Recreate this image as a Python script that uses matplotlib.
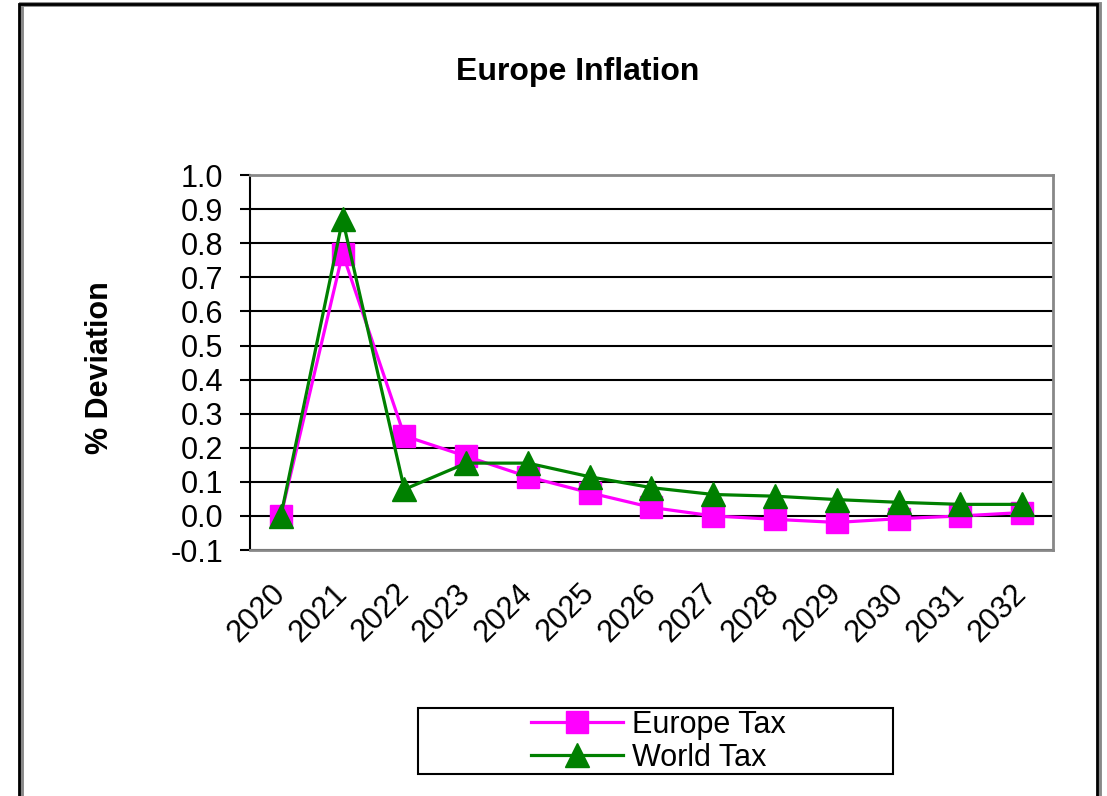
import matplotlib
matplotlib.use("Agg")
import matplotlib.pyplot as plt
from matplotlib.patches import Rectangle

plt.rcParams['font.family'] = ['Liberation Sans', 'DejaVu Sans']

years = ['2020', '2021', '2022', '2023', '2024', '2025', '2026',
         '2027', '2028', '2029', '2030', '2031', '2032']
europe_tax = [0.0, 0.77, 0.235, 0.175, 0.115, 0.068, 0.025,
              0.0, -0.01, -0.019, -0.008, 0.0, 0.01]
world_tax = [0.0, 0.87, 0.078, 0.155, 0.155, 0.115, 0.083,
             0.063, 0.058, 0.048, 0.04, 0.034, 0.034]
yticks = [-0.1, 0.0, 0.1, 0.2, 0.3, 0.4, 0.5, 0.6, 0.7, 0.8, 0.9, 1.0]

fig = plt.figure(figsize=(11.07, 7.96), dpi=100)

# outer chart frame (excel style, with a grey shadow)
fig.patches.append(Rectangle((0.0192, -0.02), 0.9738, 1.0148, transform=fig.transFigure,
                             fill=False, edgecolor='#888888', linewidth=3.5))
fig.patches.append(Rectangle((0.0172, -0.02), 0.9738, 1.0148, transform=fig.transFigure,
                             fill=False, edgecolor='black', linewidth=2))

ax = fig.add_axes([0.2258, 0.309, 0.7254, 0.471])
x = list(range(len(years)))
ax.plot(x, europe_tax, color='#FF00FF', linewidth=2.3, marker='s', markersize=16,
        label='Europe Tax', zorder=3)
ax.plot(x, world_tax, color='#008000', linewidth=2.3, marker='^', markersize=17,
        label='World Tax', zorder=4)

ax.set_xlim(-0.5, len(years) - 0.5)
ax.set_ylim(-0.1, 1.0)
ax.set_yticks(yticks)
ax.set_yticklabels(['%.1f' % v for v in yticks], fontsize=22)
ax.set_xticks(x)
ax.set_xticklabels(years, fontsize=22, rotation=45, ha='right', va='center',
                   rotation_mode='anchor')
ax.tick_params(axis='x', length=0, pad=28)
ax.tick_params(axis='y', direction='out', length=7, width=1.5, pad=12)
ax.yaxis.grid(True, color='black', linewidth=1.5)
ax.set_axisbelow(True)
for side in ['top', 'right', 'bottom']:
    ax.spines[side].set_color('#888888')
    ax.spines[side].set_linewidth(2)
ax.spines['left'].set_color('black')
ax.spines['left'].set_linewidth(1.5)

fig.text(0.522, 0.91, 'Europe Inflation', fontsize=23, fontweight='bold',
         ha='center', va='center')
fig.text(0.09, 0.538, '% Deviation', fontsize=22, fontweight='bold',
         rotation=90, ha='center', va='center')

# legend box
fig.patches.append(Rectangle((0.3776, 0.0276), 0.4291, 0.083, transform=fig.transFigure,
                             fill=False, edgecolor='black', linewidth=1.5))
fig.legend(loc='center', bbox_to_anchor=(0.595, 0.069), frameon=False, fontsize=22,
           handlelength=3.0, handletextpad=0.3, labelspacing=0.1, borderpad=0,
           markerscale=1.0)

plt.savefig('out.png', dpi=100)
